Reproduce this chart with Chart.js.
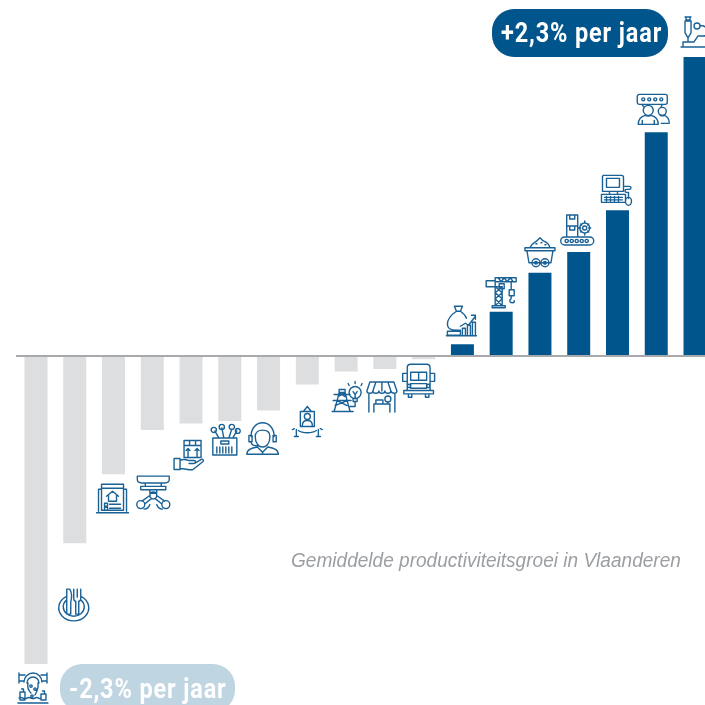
<!DOCTYPE html>
<html lang="nl">
<head>
<meta charset="utf-8">
<title>Gemiddelde productiviteitsgroei in Vlaanderen</title>
<script src="https://cdn.jsdelivr.net/npm/chart.js@4"></script>
<style>
html,body{margin:0;padding:0;background:#fff;overflow:hidden;width:705px;height:705px}
canvas{display:block}
</style>
</head>
<body>
<canvas id="c" width="730" height="705"></canvas>
<script>
// ---- data (productivity growth, % per year) ----
const categories = ['water','horeca','vastgoed','machines','logistiek','groothandel','diensten','cultuur','energie','detailhandel','transport','financien','bouw','ontginning','industrie','ict','zakelijk','farma'];
const values = [-2.37,-1.44,-0.91,-0.57,-0.52,-0.50,-0.42,-0.22,-0.12,-0.10,-0.025,0.09,0.34,0.64,0.80,1.12,1.72,2.30];
const axisMin = -2.685;
const axisMax = 2.738;
const badgeHigh = '+2,3% per jaar';
const badgeLow = '-2,3% per jaar';
const caption = 'Gemiddelde productiviteitsgroei in Vlaanderen';

// ---- styles ----
const BLUE = '#00558c', GREY = '#dddedf', PALE = '#c0d5e2', AXIS = '#a7a9ac', ICON = '#1a6196';

// icon offset from its bar (x centre, bar end), and icon size factor
const iconDx = [-3,-2,-1,1,-2,-5,-6,0,1,-3,-5,-1,0,0,-2,-1,-3,1];
const iconDy = [24,61,24,62,32,19,28,36,25,27,21,-24,-20,-21,-22,-20,-23,-25];
const iconScale = [1,1,1,1.14,1,1,1.05,1,1,1,1.14,1,1,1,1,1,1,1];

// line-art pictograms in a 32×32 box
const c = (x,y,r)=>`M${x-r} ${y}a${r} ${r} 0 1 0 ${2*r} 0a${r} ${r} 0 1 0 ${-2*r} 0z`;
const icons = {
 water:'M2 1v10M2 3h6M2 9h5M30 1v10M30 3h-6M30 9h-5M7 10a9 9 0 1 1 18 0M10 11a6 6 0 1 1 12 0M11 11c-1 5 1 8 3 10M21 11c1 5-1 8-3 12M3 20h5v8H3zM4.5 17h2v3M24 22h5v6h-5zM25.5 19h2v3M1 31h30M2 26c3-2 5 2 8 0s5 2 8 0s4 2 6 0'+c(14,14,1.2)+c(18,17,1.2)+c(15,24,1.2),
 horeca:'M9.5 8.5A15 13 0 1 0 24.5 8.5M9.5 12A10.5 9.5 0 1 0 24.5 12M10 1h3c2 3 2 9 1 13v12h-4zM17 1v9c0 2 1 3 2 3v13h3V13c1 0 2-1 2-3V1M20.5 1v8',
 vastgoed:'M5 2h22v26H5zM5 6h22M5 7H2v22M27 7h3v22M0 30.5h32M10 14l6-5 6 5M12 13v6h8v-6M8 21h3v3H8zM8 25h3v3H8zM13 22h11M13 26h11',
 machines:'M2 2h28v3c0 2-2 3-4 3H6C4 8 2 7 2 5zM5 11h22v3H5zM9 8v3M23 8v3M13 14v3h6v-3M13 19L6 24M19 19l7 5M14 22l-5 4M18 22l5 4M8 31c2 0 4-1 5-4M24 31c-2 0-4-1-5-4'+c(16,19,3)+c(5,27,3.5)+c(27,27,3.5),
 logistiek:'M11 1h17v17H11zM11 6h17M16.5 1v5M22.5 1v5M15 17V9l-2 2M15 9l2 2M24 17V9l-2 2M24 9l2 2M1 19h6v11H1zM7 21c3-2 6-1 9 0h5c2 0 2 3 0 3h-5M21 24l7-4c2-1 3 1 2 2l-10 8c-3 1-8-1-13-1',
 groothandel:'M4 14h24v17H4zM12 17h8v3h-8zM8 23v6M11 23v6M14 23v6M17 23v6M20 23v6M23 23v6M10 14L6 7M15 14L13 4M20 14l3-9M24 14l4-7'+c(5,6,2.6)+c(13,3,2.6)+c(23,3,2.6)+c(29,7,2.4),
 diensten:'M9 14c0 6 3 10 7 10s7-4 7-10M9 14c0-4 3-6 7-6s7 2 7 6M5 14C5 6 10 1 16 1s11 5 11 13M3 13h3v6H3zM26 13h3v6h-3zM5 19c0 3 3 4 7 4M1 31c0-5 5-6 10-7l5 5 5-5c5 1 10 2 10 7zM16 29v2',
 cultuur:'M9 7h14v15H9zM12 7l4-5 4 5M11 21c0-4 2-5 5-5s5 1 5 5M7 26c4 3 14 3 18 0M5 25v7M27 25v7M3 32h4M25 32h4M1 25l2-1M31 25l-2-1'+c(16,12,3),
 energie:'M8 12h6l2 8 3 11M8 12L6 20 3 31M8 12l6 4M14 12l-7 4M6 20l10 5M16 20L4 25M2 20h18M3 14h16M1 31h21M8 12V9h6v3M24 26v-5M24 26h-5M22 18h4v3h-4zM22 11l2 3 2-3M24 14v4M24 1v2M17 3l1 2M31 3l-1 2'+c(24,12,6),
 detailhandel:'M4 2h24l3 9c0 3-5 3-6 0 0 3-6 3-6 0 0 3-6 3-6 0 0 3-6 3-6 0 0 3-6 3-6 0zM10 2L7 11M16 2v9M22 2l3 9M3 14v18M29 14v18M8 32V24h16v8M10 20h7v4h-7zM22 22v2'+c(22,19,3),
 transport:'M6 5c0-2 1-3 3-3h14c2 0 3 1 3 3v20H6zM9 9h14v7H9zM16 9v7M9 19h14v4H9zM6 10H2v7h4M26 10h4v7h-4M3 25h26v3H3zM7 28v3h3v-3M22 28v3h3v-3'+c(7.5,21,1.4)+c(24.5,21,1.4),
 financien:'M9 2h8l-2 5h-4zM11 7c-6 4-9 8-9 13s4 6 9 6h4M15 7c3 2 5 4 6 7M2 27h13v4H2zM17 31v-7h3v7M22 31V21h3v10M27 31V18h3v13M15 22l5-3 3 2 7-9M26 11h4v4M1 31.5h30',
 bouw:'M10 11h7v19h-7zM10 11l7 6M17 11l-7 6M10 17l7 6M17 17l-7 6M10 23l7 7M17 23l-7 7M7 30h13v2H7zM1 5h9v6H1zM10 2h21v4H10zM13 2l3 4 3-4 3 4 3-4 3 4M14 8h5v5h-5zM26 6v8M24 14h5v6h-5zM26 20v3c-2 1-2 4 1 4s2-2 2-2',
 ontginning:'M6 12C8 7 12 6 13 5l3-3 3 3c2 1 6 2 7 7M1 12h30v3H1zM3 15l2 12h22l2-12M12 8h1M17 7h1M21 9h1'+c(12,27,4)+c(21,27,4)+c(12,27,1.4)+c(21,27,1.4),
 industrie:'M6 1h11v11H6zM9 1v4h5V1M6 12h11v11H6zM9 12v4h5v-4M4 23h25a4 4 0 0 1 0 8H4a4 4 0 0 1 0-8zM24 7v2M24 19v2M18 14h2M28 14h2M20 10l1 1M28 10l-1 1M20 18l1-1M28 18l-1-1'+c(24,14,5)+c(24,14,2)+c(6,27,1.6)+c(11,27,1.6)+c(16,27,1.6)+c(21,27,1.6)+c(26,27,1.6),
 ict:'M3 1h18c1 0 2 1 2 2v14H2V2zM6 4h13v9H6zM9 17v3h8v-3M1 20h24v8H1zM4 23h18M4 25.5h18M6 22v5M10 22v5M14 22v5M18 22v5M23 12h6c2 0 2 3 0 3h-3c-2 0-2 3 0 3h2v6M25 27a3 4 0 0 0 6 0a3 4 0 0 0-6 0z',
 zakelijk:'M2 1h26c1 0 2 1 2 2v6c0 1-1 2-2 2H2c-1 0-2-1-2-2V3c0-1 1-2 2-2zM5 11l1 2M25 11l-1 2M1 31c0-6 3-8 7-9 2 1 4 1 6 0 4 1 7 3 7 9zM5 31v-4M17 31v-4M24 30h8c0-5-2-7-5-8-1 .5-3 .5-4 0'+c(6,6,1.5)+c(12,6,1.5)+c(18,6,1.5)+c(24,6,1.5)+c(11,17,5)+c(25,18,4),
 farma:'M5 1h6M6 1v3h4V1M5 5v12l3 5 3-5V5zM5 5h6M8 22v3M20 10c4-1 8 2 8 6s-3 4-5 4h-5l-4 6H3v5M18 20h8M1 31h24'+c(17,10,3)
};

// ---- drawing of the icons, badges and caption ----
function pill(ctx,x,y,w,h,r,fill){
  ctx.beginPath();
  ctx.roundRect(x,y,w,h,r);
  ctx.fillStyle=fill;
  ctx.fill();
}
function squeezed(ctx,text,x,y,sx){
  ctx.save();
  ctx.translate(x,y);
  ctx.scale(sx,1);
  ctx.fillText(text,0,0);
  ctx.restore();
}
const overlay = {
  id:'overlay',
  afterDraw(chart){
    const ctx=chart.ctx;
    const bars=chart.getDatasetMeta(0).data;
    ctx.save();
    ctx.strokeStyle=ICON;
    ctx.lineJoin='round';
    ctx.lineCap='round';
    categories.forEach((name,i)=>{
      const s=iconScale[i];
      ctx.save();
      ctx.translate(bars[i].x+iconDx[i],bars[i].y+iconDy[i]);
      ctx.scale(s,s);
      ctx.translate(-16,-16);
      ctx.lineWidth=1.4/s;
      ctx.stroke(new Path2D(icons[name]));
      ctx.restore();
    });
    ctx.restore();

    ctx.save();
    pill(ctx,492,9,176,48,22,BLUE);
    pill(ctx,60,664,175,48,22,PALE);
    ctx.fillStyle='#fff';
    ctx.font='bold 27px Roboto';
    ctx.letterSpacing='1px';
    ctx.textAlign='left';
    ctx.textBaseline='alphabetic';
    squeezed(ctx,badgeHigh,501,42,0.87);
    squeezed(ctx,badgeLow,69,698,0.87);
    ctx.letterSpacing='0px';
    ctx.fillStyle='#9b9ea2';
    ctx.font='italic 20px "Liberation Sans"';
    squeezed(ctx,caption,291,567,0.953);
    ctx.restore();
  }
};

new Chart(document.getElementById('c'),{
  type:'bar',
  data:{
    labels:categories,
    datasets:[{
      data:values,
      backgroundColor:values.map(v=>v<0?GREY:BLUE),
      categoryPercentage:1,
      barPercentage:0.593,
      borderWidth:0
    }]
  },
  plugins:[overlay],
  options:{
    responsive:false,
    animation:false,
    layout:{padding:{left:16.6,right:15.6,top:0,bottom:0}},
    plugins:{legend:{display:false},tooltip:{enabled:false},title:{display:false}},
    scales:{
      y:{display:false,min:axisMin,max:axisMax},
      x:{
        position:{y:0},
        ticks:{display:false},
        grid:{display:false,drawTicks:false},
        border:{display:true,color:AXIS,width:2,z:5}
      }
    }
  }
});
</script>
</body>
</html>
